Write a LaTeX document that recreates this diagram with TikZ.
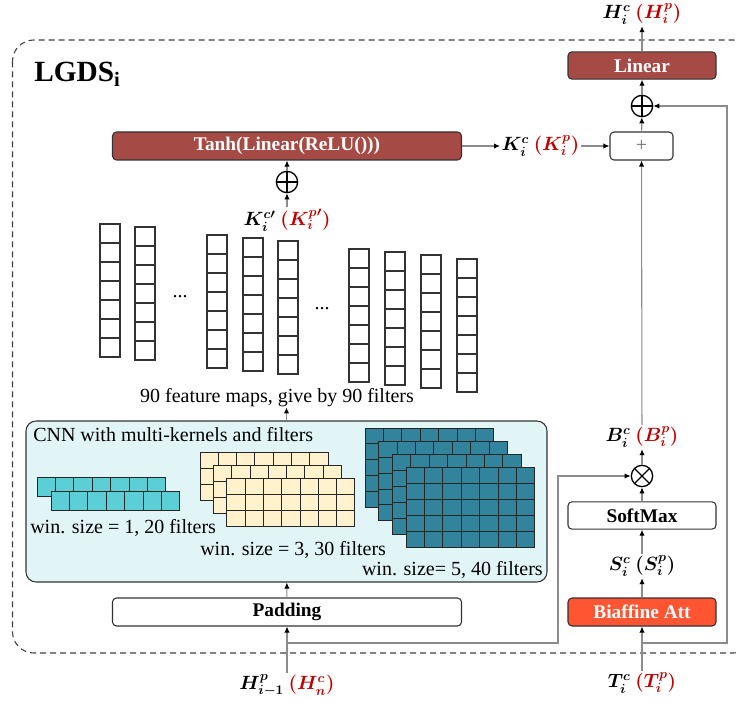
\documentclass[tikz,border=0pt]{standalone}
\usepackage{fontspec}
\setmainfont{Liberation Serif}
\usetikzlibrary{arrows.meta,calc}
\definecolor{dred}{RGB}{165,74,68}
\definecolor{bia}{RGB}{255,85,51}
\definecolor{cyanc}{RGB}{91,206,214}
\definecolor{yel}{RGB}{255,242,204}
\definecolor{tealc}{RGB}{49,132,155}
\definecolor{cnnbg}{RGB}{225,245,246}
\definecolor{tred}{RGB}{192,0,0}
\definecolor{lgray}{RGB}{140,140,140}
\begin{document}
\begin{tikzpicture}[x=0.75pt,y=-0.75pt,
  wbox/.style={draw=black!80, line width=0.8pt, rounded corners=3pt, fill=white,
    minimum width=111pt, minimum height=20.5pt, inner sep=0pt,
    font=\fontsize{14.5}{16}\selectfont\bfseries},
  rbox/.style={wbox, fill=dred, text=white},
  obox/.style={wbox, fill=bia, text=white},
  lbl/.style={inner sep=1pt, font=\fontsize{14}{16}\selectfont\boldmath},
  txt/.style={inner sep=0pt, font=\fontsize{15}{17}\selectfont},
  conn/.style={draw=lgray, line width=0.8pt, -{Latex[length=4.5pt,width=4pt,color=black]}},
  opnode/.style={circle, draw=black, line width=1pt, minimum size=16pt, inner sep=0pt},
  fcell/.style={draw=black!80, line width=0.8pt},
  gcell/.style={draw=black!85, line width=0.75pt}
]
\useasboundingbox (0,0) rectangle (736,706);
% dashed frame
\begin{scope}
\clip (0,0) rectangle (736,706);
\draw[black!75, line width=0.8pt, dash pattern=on 4.5pt off 3pt, rounded corners=16pt] (12.5,40) rectangle (755,653);
\end{scope}
\node[anchor=base west, inner sep=0pt, font=\fontsize{22}{26}\selectfont\bfseries] (title) at (34,82) {LGDS\textsubscript{i}};

% left column
\node[rbox, minimum width=261.75pt, minimum height=21pt] (tanh) at (287,146) {Tanh(Linear(ReLU()))};
\node[opnode, path picture={\draw[line width=1pt] (path picture bounding box.north) -- (path picture bounding box.south) (path picture bounding box.west) -- (path picture bounding box.east);}] (oplusA) at (287,182) {};
\node[lbl] (Kp) at (287,220) {$K_i^{c\prime}$ \textcolor{tred}{$\bigl(K_i^{p\prime}\bigr)$}};
\node[lbl, anchor=west] (Kc) at (500,146) {$K_i^c$ \textcolor{tred}{$(K_i^p)$}};

% feature maps
\foreach \x/\y in {100/224,135/227,207/235,243/238,278/241,349/249,385/252,421/255,457/259}
  \foreach \i in {0,...,6}
    \draw[fcell] (\x,{\y+\i*19}) rectangle ++(20,19);
\node[txt] (dotsA) at (180,297) {...};
\node[txt] (dotsB) at (322,309) {...};
\node[txt] (fm) at (277,398) {90 feature maps, give by 90 filters};

% CNN box
\node[draw=black!80, line width=0.8pt, fill=cnnbg, rounded corners=7.5pt, minimum width=390.75pt, minimum height=120.75pt, inner sep=0pt] (cnn) at (286.5,501.5) {};
\node[txt, anchor=west] (cnnt) at (33,435) {CNN with multi-kernels and filters};
% cyan strips
\foreach \ox/\oy in {37/477, 51/491}
  \foreach \c in {0,...,6}
    \draw[gcell, fill=cyanc] ({\ox+\c*18.4},\oy) rectangle ++(18.4,19);
% yellow grids
\foreach \k in {0,1,2}
  \foreach \c in {0,...,6}
    \foreach \r in {0,1,2}
      \draw[gcell, fill=yel] ({200+13.4*\k+\c*18.3},{452+13.2*\k+\r*16}) rectangle ++(18.3,16);
% teal grids
\foreach \k in {0,1,2,3}
  \foreach \c in {0,...,6}
    \foreach \r in {0,...,4}
      \draw[gcell, fill=tealc] ({365+13.7*\k+\c*18.4},{428+13.3*\k+\r*15.9}) rectangle ++(18.4,15.9);
\node[txt, anchor=west] (w1) at (30,528) {win. size = 1, 20 filters};
\node[txt, anchor=west] (w3) at (200,550) {win. size = 3, 30 filters};
\node[txt, anchor=east] (w5) at (543,570) {win. size= 5, 40 filters};

\node[wbox, minimum width=261.75pt, minimum height=21pt] (pad) at (287,612) {Padding};
\node[lbl] (Hin) at (287,685) {$H_{i-1}^p$ \textcolor{tred}{$(H_n^c)$}};

% right column
\node[lbl] (Hout) at (642,14) {$H_i^c$ \textcolor{tred}{$(H_i^p)$}};
\node[rbox] (lin) at (642,65.5) {Linear};
\node[opnode, path picture={\draw[line width=1pt] (path picture bounding box.north) -- (path picture bounding box.south) (path picture bounding box.west) -- (path picture bounding box.east);}] (oplusB) at (642,106) {};
\node[wbox, minimum width=47.25pt, minimum height=21pt, font=\fontsize{15}{16}\selectfont\color{black!55}] (plus) at (641.5,146) {+};
\node[lbl] (B) at (642,437) {$B_i^c$ \textcolor{tred}{$(B_i^p)$}};
\node[opnode, path picture={\draw[line width=1pt] (path picture bounding box.north west) -- (path picture bounding box.south east) (path picture bounding box.south west) -- (path picture bounding box.north east);}] (otimes) at (642,476) {};
\node[wbox] (soft) at (642,515.5) {SoftMax};
\node[lbl] (S) at (642,566) {$S_i^c\ (S_i^p)$};
\node[obox, minimum height=21pt] (biaf) at (642,612) {Biaffine Att};
\node[lbl] (T) at (642,683) {$T_i^c$ \textcolor{tred}{$(T_i^p)$}};

% coordinates for branches
\coordinate (hb) at (287,643);
\coordinate (hc) at (558,560);
\coordinate (tb) at (642,643);
\coordinate (tc) at (727,400);

% connectors
\draw[conn] (lin) -- (Hout);
\draw[conn] (oplusB) -- (lin);
\draw[conn] (plus) -- (oplusB);
\draw[conn] (B) -- (plus);
\draw[conn] (otimes) -- (B);
\draw[conn] (soft) -- (otimes);
\draw[conn] (S) -- (soft);
\draw[conn] (biaf) -- (S);
\draw[conn] (T) -- (biaf);
\draw[conn] (tb) -| (tc) |- (oplusB.east);
\draw[conn] (tanh) -- (Kc);
\draw[conn] (Kc) -- (plus);
\draw[conn] (oplusA) -- (tanh);
\draw[conn] (Kp) -- (oplusA);
\draw[conn] (cnn.north) -- (cnn.north |- fm.south);
\draw[conn] (pad) -- (cnn);
\draw[conn] (Hin) -- (pad);
\draw[conn] (hb) -| (hc) |- (otimes.west);
\end{tikzpicture}
\end{document}
